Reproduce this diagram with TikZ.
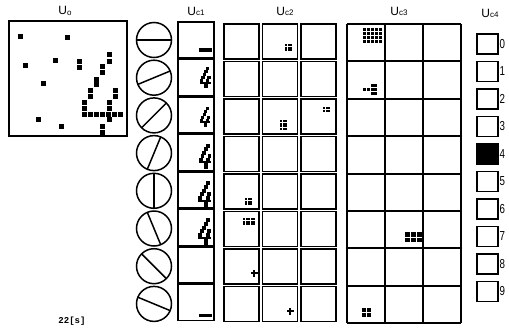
\documentclass[tikz,border=0pt]{standalone}
\usepackage{fontspec}
\setmainfont{Liberation Sans}
\newfontfamily\monob{Liberation Mono}
\begin{document}
\begin{tikzpicture}[x=1pt,y=-1pt,
  lbl/.style={inner sep=0pt,font=\fontsize{12}{12}\selectfont},
  dig/.style={inner sep=0pt,anchor=west,font=\fontsize{13}{13}\selectfont},
  frame/.style={draw=black,line width=1.5pt},
  pix/.style={fill=black}]
\useasboundingbox[fill=white] (0,0) rectangle (509,327);
% ---------- U0 ----------
\node[lbl] (lu0) at (65,11) {U\raisebox{-1pt}{\fontsize{8}{8}\selectfont o}};
\draw[frame] (9,21) rectangle (127,136);
\foreach \x/\y in {20/36,67/37,25/65,55/60,79/61,79/67,43/83,109/54,109/61,102/66,102/72,96/79,96/84,90/90,90/96,84/102,84/108,115/90,115/96,109/102,109/108,84/114,90/114,96/114,102/114,108/114,114/114,120/114,109/119,102/126,102/132,38/119,61/126}
  \fill[pix] (\x-2.5,\y-2.5) rectangle (\x+2.5,\y+2.5);
% ---------- circles ----------
\foreach \k in {0,...,7}{
  \coordinate (c\k) at (154,{40+37.7*\k});
  \draw[line width=1.5pt] (c\k) circle[radius=17.5];
  \draw[line width=1.5pt] (c\k) ++({-22.5*\k}:17.5) -- ++({180-22.5*\k}:35);
}
% ---------- Uc1 ----------
\node[lbl] (luc1) at (196,11) {U{\fontsize{8}{8}\selectfont c1}};
\foreach \k in {0,...,7}
  \draw[frame] (178,{22+37.5*\k}) rectangle (214,{58+37.5*\k});
\fill[pix] (199,48) rectangle (212,51.5);
\fill[pix] (199,313.5) rectangle (212,317);
% the "4" glyphs
\foreach \s/\ox/\oy in {1.5/200/67,1.45/200/107,1.75/199/144,1.9/198/181,1.9/198/218}{
  \foreach \c/\r in {4/0,5/0,4/1,5/1,3/2,4/2,3/3,4/3,2/4,3/4,2/5,3/5,1/6,2/6,5/6,6/6,1/7,2/7,5/7,6/7,0/8,1/8,4/8,5/8,0/9,1/9,4/9,5/9,0/10,1/10,2/10,3/10,4/10,5/10,6/10,3/11,4/11,3/12,4/12,3/13,4/13}
    \fill[pix] ({\ox+\c*\s-0.1},{\oy+\r*\s-0.1}) rectangle ++({\s+0.2},{\s+0.2});
}
% ---------- Uc2 ----------
\node[lbl] (luc2) at (285,11) {U{\fontsize{8}{8}\selectfont c2}};
\foreach \i in {0,...,7}
  \foreach \x in {224,262.5,301}
    \draw[frame] (\x,{24+37.5*\i}) rectangle ++(35,35);
\foreach \ox/\oy/\nc/\nr in {285/44/3/3,280/120/3/4,323/107/3/2,245/198/3/3,243/218/5/3}
  \foreach \c in {1,...,\nc}
    \foreach \r in {1,...,\nr}
      \fill[pix] ({\ox+(\c-1)*2.5},{\oy+(\r-1)*2.5}) rectangle ++(2.1,2.1);
\foreach \px/\py in {254/273,290/311}{
  \fill[pix] (\px-1.2,\py-3.5) rectangle (\px+1.2,\py+3.5);
  \fill[pix] (\px-3.5,\py-1.2) rectangle (\px+3.5,\py+1.2);
}
% ---------- Uc3 ----------
\node[lbl] (luc3) at (399,11) {U{\fontsize{8}{8}\selectfont c3}};
\foreach \x in {347,385,423,461}
  \draw[line width=2pt] (\x,24) -- (\x,323);
\foreach \i in {0,...,8}
  \draw[line width=2pt] (347,{24+37.375*\i}) -- (461,{24+37.375*\i});
\foreach \c in {0,...,4}
  \foreach \r in {0,...,3}
    \fill[pix] ({363+\c*4},{28+\r*4}) rectangle ++(3.2,3.2);
\foreach \c/\r in {2/0,3/0,0/1,1/1,2/1,3/1,2/2,3/2}
  \fill[pix] ({363+\c*3.8},{84+\r*3.8}) rectangle ++(3,3);
\foreach \c in {0,1,2}
  \foreach \r in {0,1}
    \fill[pix] ({405+\c*6},{232+\r*5.5}) rectangle ++(5.2,4.8);
\foreach \c in {0,1}
  \foreach \r in {0,1}
    \fill[pix] ({362+\c*5},{308+\r*5}) rectangle ++(4.4,4.4);
% ---------- Uc4 ----------
\node[lbl] (luc4) at (490,13) {U{\fontsize{8}{8}\selectfont c4}};
\foreach \k in {0,...,9}{
  \draw[frame] (477,{34+27.5*\k}) rectangle (498,{54+27.5*\k});
  \node[dig] (d\k) at (499.5,{44+27.5*\k}) {\scalebox{0.75}[1]{\k}};
}
\fill[pix] (477,{34+27.5*4}) rectangle (498,{54+27.5*4});
% ---------- time ----------
\node[inner sep=0pt,font=\monob\bfseries\fontsize{9}{9}\selectfont] (t) at (72,321) {22[s]};
\end{tikzpicture}
\end{document}
